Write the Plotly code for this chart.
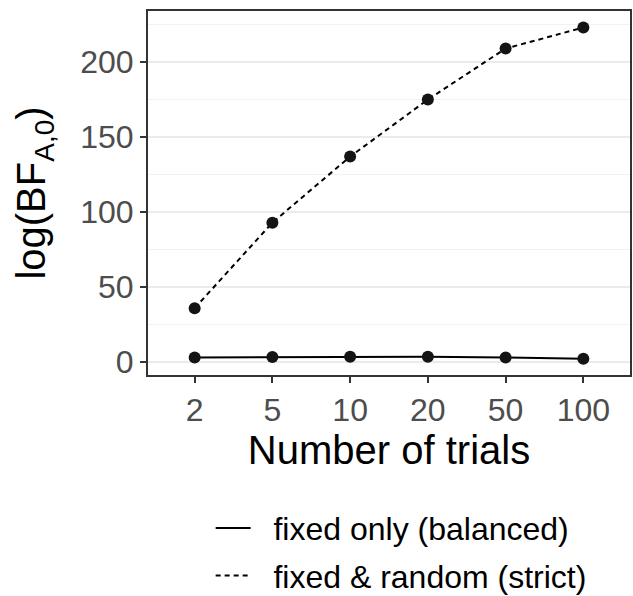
import plotly.graph_objects as go

trials = ["2", "5", "10", "20", "50", "100"]
fixed_only = [3.2, 3.5, 3.6, 3.6, 3.2, 2.3]
fixed_random = [36, 93, 137, 175, 209, 223]
y_ticks = [0, 50, 100, 150, 200]
legend_names = ["fixed only (balanced)", "fixed & random (strict)"]

FONT = "Liberation Sans, Arial, Helvetica, sans-serif"
GAP = "\u00a0\u00a0"

fig = go.Figure()
series = [
    (legend_names[0], fixed_only, "solid", "g1"),
    (legend_names[1], fixed_random, "5px,4px", "g2"),
]
for name, vals, dash, grp in series:
    fig.add_trace(go.Scatter(
        x=trials, y=vals, mode="lines", name=GAP + name, legendgroup=grp,
        line=dict(color="#000000", width=2, dash=dash),
    ))
    fig.add_trace(go.Scatter(
        x=trials, y=vals, mode="markers", name=name, legendgroup=grp,
        showlegend=False, marker=dict(color="#141414", size=12),
    ))

fig.update_layout(
    width=633, height=596,
    margin=dict(l=148, r=3, t=11, b=221, autoexpand=False),
    paper_bgcolor="white", plot_bgcolor="white",
    font=dict(family=FONT, color="#000000"),
    showlegend=True,
    legend=dict(
        x=0.13, y=-0.345, xanchor="left", yanchor="top",
        font=dict(size=32, color="#000000"),
        traceorder="grouped", tracegroupgap=3, itemwidth=35,
        bgcolor="rgba(0,0,0,0)",
    ),
    xaxis=dict(
        type="category", range=[-0.6, 5.6],
        showgrid=False, zeroline=False,
        showline=True, mirror=True, linecolor="#333333", linewidth=2,
        ticks="outside", ticklen=6, tickwidth=2, tickcolor="#333333",
        tickfont=dict(size=32, color="#4D4D4D", family=FONT),
        title=dict(text="Number of trials", font=dict(size=40, color="#000000", family=FONT), standoff=8),
    ),
    yaxis=dict(
        range=[-8.5, 234], tickvals=y_ticks,
        showgrid=True, gridcolor="#EBEBEB", gridwidth=2,
        minor=dict(dtick=25, tick0=25, showgrid=True, gridcolor="#F2F2F2", gridwidth=1),
        zeroline=False,
        showline=True, mirror=True, linecolor="#333333", linewidth=2,
        ticks="outside", ticklen=6, tickwidth=2, tickcolor="#333333",
        tickfont=dict(size=32, color="#4D4D4D", family=FONT),
        title=dict(text="log(BF<sub>A,0</sub>)", font=dict(size=40, color="#000000", family=FONT), standoff=22),
    ),
)

fig.write_html("out.html")
